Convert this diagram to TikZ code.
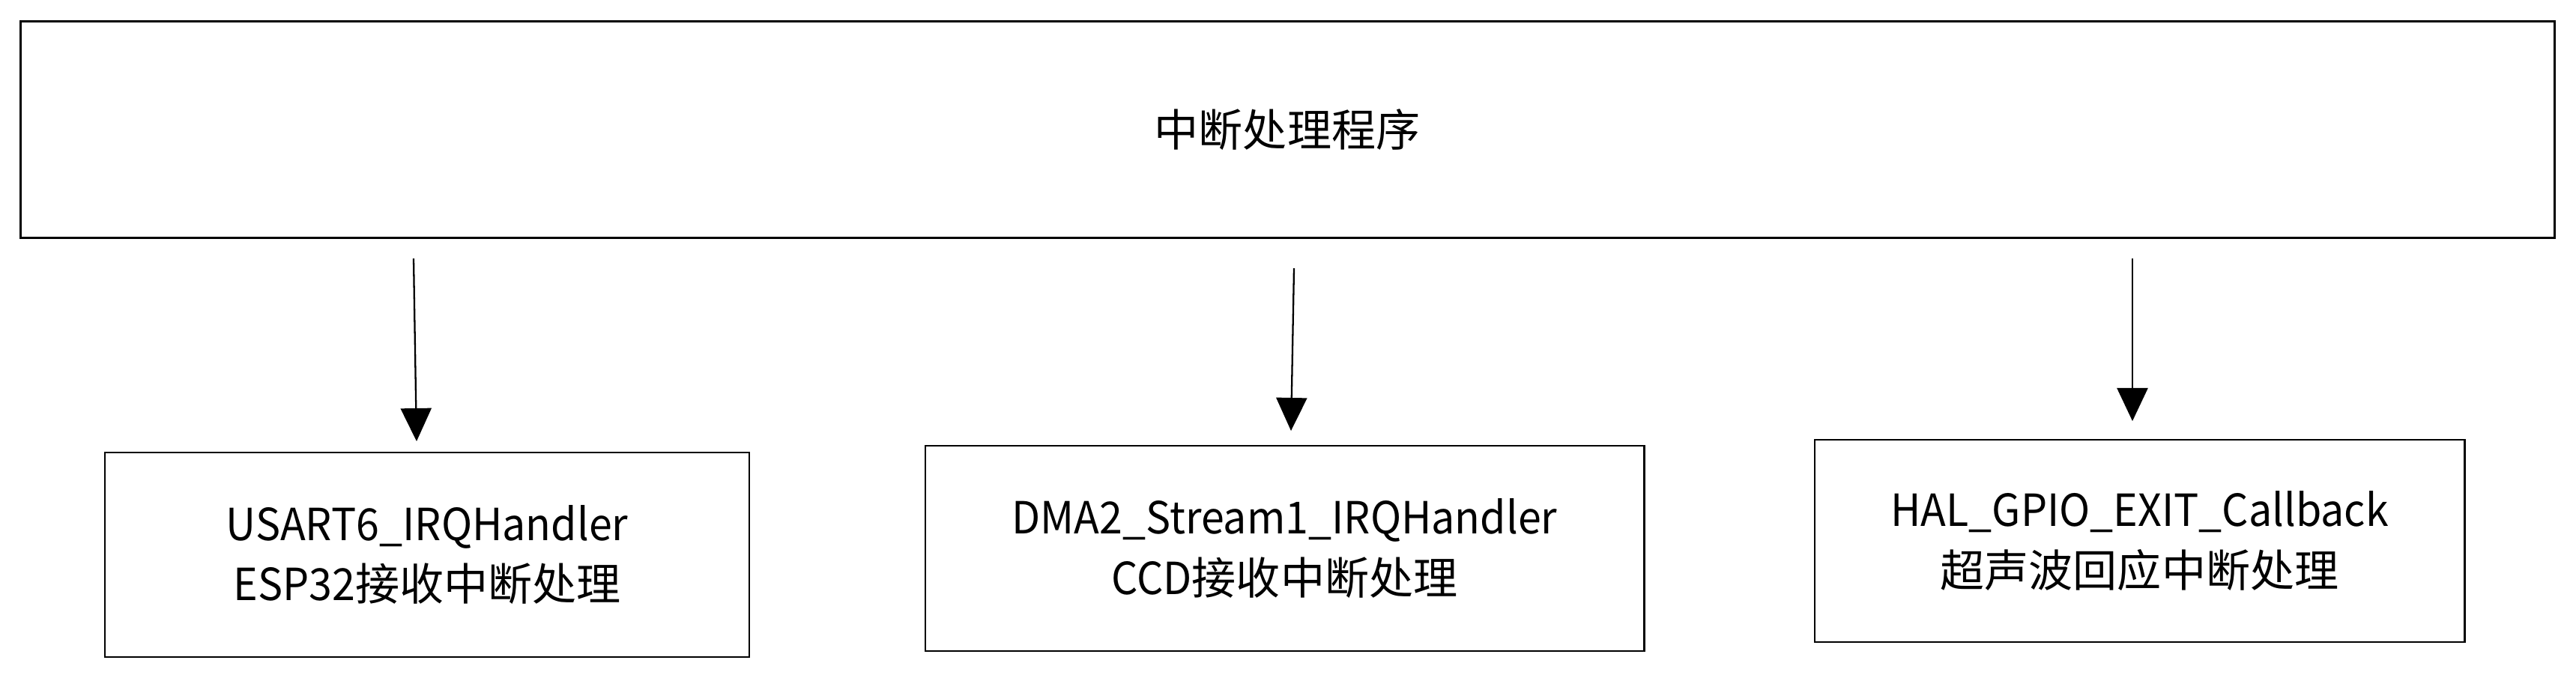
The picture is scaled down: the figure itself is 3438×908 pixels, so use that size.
\documentclass[tikz,border=0pt]{standalone}
\usepackage{fontspec}
\setmainfont{Noto Sans CJK SC}
\newfontfamily\latinnarrow[FakeStretch=0.94]{Noto Sans CJK SC}
\usetikzlibrary{arrows.meta}
\begin{document}
\begin{tikzpicture}[x=0.01cm,y=-0.01cm,
  topbox/.style={draw=black,line width=0.85pt,minimum width=33.8cm,minimum height=2.88cm,inner sep=0pt,
    font=\fontsize{16.8pt}{23pt}\selectfont},
  subbox/.style={draw=black,line width=0.7pt,inner sep=0pt,align=center,
    font=\fontsize{16.8pt}{23pt}\selectfont},
  arr/.style={line width=0.65pt,-{Triangle[length=0.44cm,width=0.41cm]}}]
\useasboundingbox[fill=white] (0,0) rectangle (3438,908);
\node[topbox] (top) at (1718,173) {中断处理程序};
\node[subbox,minimum width=8.6cm,minimum height=2.73cm] (b1) at (570,740.5) {{\latinnarrow USART6\_IRQHandler}\\{\latinnarrow ESP32}接收中断处理};
\node[subbox,minimum width=9.59cm,minimum height=2.74cm] (b2) at (1714.5,732) {{\latinnarrow DMA2\_Stream1\_IRQHandler}\\{\latinnarrow CCD}接收中断处理};
\node[subbox,minimum width=8.67cm,minimum height=2.70cm] (b3) at (2855.5,722) {{\latinnarrow HAL\_GPIO\_EXIT\_Callback}\\超声波回应中断处理};
\coordinate (a1s) at (552,345);
\coordinate (a1e) at (556,589);
\coordinate (a2s) at (1727,358);
\coordinate (a2e) at (1723,575);
\coordinate (a3s) at (2846,345);
\coordinate (a3e) at (2846,562);
\draw[arr] (a1s) -- (a1e);
\draw[arr] (a2s) -- (a2e);
\draw[arr] (a3s) -- (a3e);
\end{tikzpicture}
\end{document}
